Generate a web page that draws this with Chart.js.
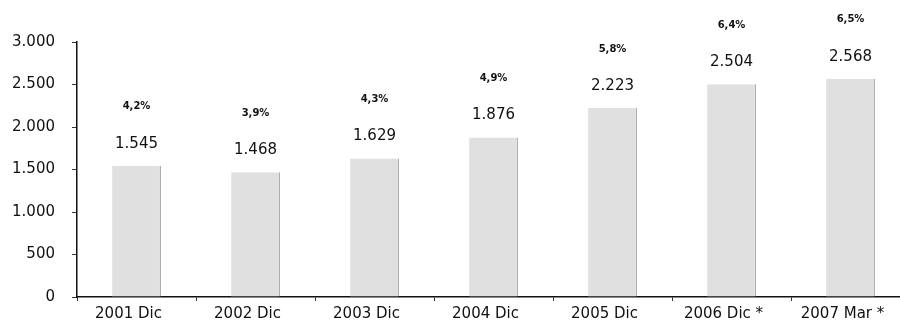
<!DOCTYPE html>
<html>
<head>
<meta charset="utf-8">
<script src="https://cdn.jsdelivr.net/npm/chart.js@4"></script>
<style>
  html, body { margin: 0; padding: 0; background: #fff; overflow: hidden; }
  #wrap { width: 912px; height: 334px; position: relative; }
</style>
</head>
<body>
<div id="wrap"><canvas id="js--chart--1"></canvas></div>
<script>
const labels = ["2001 Dic", "2002 Dic", "2003 Dic", "2004 Dic", "2005 Dic", "2006 Dic *", "2007 Mar *"];
const values = [1545, 1468, 1629, 1876, 2223, 2504, 2568];
const growth = [4.2, 3.9, 4.3, 4.9, 5.8, 6.4, 6.5];
const yTicks = [0, 500, 1000, 1500, 2000, 2500, 3000];

const FONT = "'DejaVu Sans', Arial, sans-serif";

function dots(n) {
    return String(n).replace(/\B(?=(\d{3})+(?!\d))/g, ".");
}

// numbers above the bars
const barLabels = {
    id: "barLabels",
    afterDatasetsDraw(chart) {
        const ctx = chart.ctx;
        const meta = chart.getDatasetMeta(0);
        ctx.save();
        ctx.fillStyle = "#111";
        ctx.textAlign = "center";
        ctx.textBaseline = "middle";
        meta.data.forEach(function (bar, i) {
            ctx.font = "15px " + FONT;
            ctx.fillText(dots(values[i]), bar.x, bar.y - 22);
            ctx.font = "bold 10px " + FONT;
            ctx.fillText(String(growth[i]).replace(".", ",") + "%", bar.x, bar.y - 59);
        });
        ctx.restore();
    }
};

const data = {
    labels: labels,
    datasets: [
        {
            label: "total",
            data: values,
            backgroundColor: "#e0e0e0",
            borderColor: "#9a9a9a",
            borderWidth: { right: 1, top: 0, left: 0, bottom: 0 },
            borderSkipped: false,
            barPercentage: 0.41,
            categoryPercentage: 1,
        }
    ]
};

const config = {
    type: "bar",
    data: data,
    plugins: [barLabels],
    options: {
        responsive: true,
        maintainAspectRatio: false,
        animation: false,
        layout: { padding: { top: 42, right: 2, left: 0, bottom: 0 } },
        plugins: { legend: { display: false }, tooltip: { enabled: false } },
        scales: {
            x: {
                grid: { drawOnChartArea: false, color: "#333", tickLength: 4, offset: true },
                border: { color: "#111", width: 1.5 },
                ticks: {
                    color: "#111",
                    font: { size: 15, family: FONT },
                    padding: 4,
                    labelOffset: -8,
                    maxRotation: 0,
                    autoSkip: false,
                },
                afterFit(scale) { scale.height = 37; },
            },
            y: {
                min: 0,
                max: 3000,
                afterBuildTicks(scale) { scale.ticks = yTicks.map(function (v) { return { value: v }; }); },
                grid: { drawOnChartArea: false, color: "#333", tickLength: 5 },
                border: { color: "#111", width: 1.5 },
                ticks: {
                    color: "#111",
                    font: { size: 15, family: FONT },
                    padding: 17,
                    callback: function (v) { return dots(v); },
                },
                afterFit(scale) { scale.width = 77; },
            }
        }
    }
};

new Chart(document.getElementById("js--chart--1"), config);
</script>
</body>
</html>
